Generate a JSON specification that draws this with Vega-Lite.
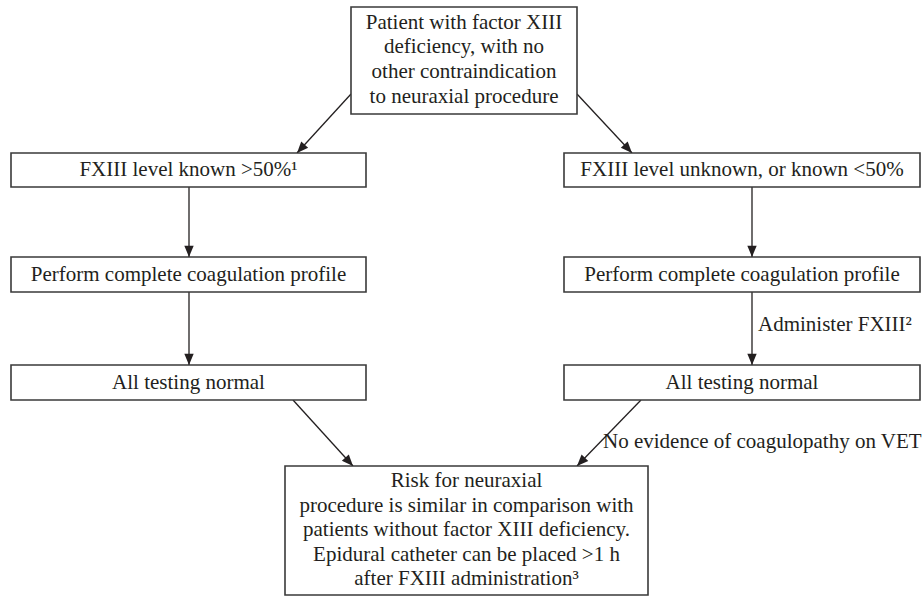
{
  "$schema": "https://vega.github.io/schema/vega-lite/v6.json",
  "width": 924,
  "height": 597,
  "padding": 0,
  "autosize": "none",
  "background": "white",
  "config": {"view": {"stroke": null}},
  "datasets": {
    "boxes": [
      {"box": "start", "x1": 351, "x2": 577, "y1": 7, "y2": 114},
      {"box": "known", "x1": 11, "x2": 366, "y1": 153, "y2": 187},
      {"box": "unknown", "x1": 564, "x2": 920, "y1": 153, "y2": 187},
      {"box": "profileL", "x1": 11, "x2": 366, "y1": 257, "y2": 292},
      {"box": "profileR", "x1": 564, "x2": 920, "y1": 257, "y2": 292},
      {"box": "normalL", "x1": 11, "x2": 366, "y1": 365, "y2": 400},
      {"box": "normalR", "x1": 564, "x2": 920, "y1": 365, "y2": 400},
      {"box": "risk", "x1": 285, "x2": 648, "y1": 466, "y2": 595}
    ],
    "boxText": [
      {"x": 464, "y": 22.5, "text": "Patient with factor XIII"},
      {"x": 464, "y": 47, "text": "deficiency, with no"},
      {"x": 464, "y": 72, "text": "other contraindication"},
      {"x": 464, "y": 96.5, "text": "to neuraxial procedure"},
      {"x": 188.5, "y": 170, "text": "FXIII level known >50%¹"},
      {"x": 742, "y": 170, "text": "FXIII level unknown, or known <50%"},
      {"x": 188.5, "y": 274.5, "text": "Perform complete coagulation profile"},
      {"x": 742, "y": 274.5, "text": "Perform complete coagulation profile"},
      {"x": 188.5, "y": 382.5, "text": "All testing normal"},
      {"x": 742, "y": 382.5, "text": "All testing normal"},
      {"x": 466.5, "y": 481, "text": "Risk for neuraxial"},
      {"x": 466.5, "y": 505.5, "text": "procedure is similar in comparison with"},
      {"x": 466.5, "y": 530, "text": "patients without factor XIII deficiency."},
      {"x": 466.5, "y": 554.5, "text": "Epidural catheter can be placed >1 h"},
      {"x": 466.5, "y": 578.5, "text": "after FXIII administration³"}
    ],
    "edgeText": [
      {"x": 758, "y": 325, "text": "Administer FXIII²"},
      {"x": 603, "y": 442, "text": "No evidence of coagulopathy on VET"}
    ],
    "edges": [
      {"from": "start", "to": "known", "x1": 351, "y1": 94, "x2": 297, "y2": 153, "angle": 42.5},
      {"from": "start", "to": "unknown", "x1": 577, "y1": 94, "x2": 632, "y2": 153, "angle": -43},
      {"from": "known", "to": "profileL", "x1": 189, "y1": 187, "x2": 189, "y2": 257, "angle": 0},
      {"from": "profileL", "to": "normalL", "x1": 189, "y1": 292, "x2": 189, "y2": 365, "angle": 0},
      {"from": "unknown", "to": "profileR", "x1": 752, "y1": 187, "x2": 752, "y2": 257, "angle": 0},
      {"from": "profileR", "to": "normalR", "x1": 752, "y1": 292, "x2": 752, "y2": 365, "angle": 0},
      {"from": "normalL", "to": "risk", "x1": 293, "y1": 400, "x2": 353, "y2": 466, "angle": -42.3},
      {"from": "normalR", "to": "risk", "x1": 641, "y1": 400, "x2": 577, "y2": 466, "angle": 44.1}
    ]
  },
  "layer": [
    {
      "data": {"name": "edges"},
      "mark": {"type": "rule", "color": "#231f20", "strokeWidth": 1.3},
      "encoding": {
        "x": {"field": "x1", "type": "quantitative", "scale": {"domain": [0, 924], "nice": false, "zero": false}, "axis": null},
        "y": {"field": "y1", "type": "quantitative", "scale": {"domain": [0, 597], "nice": false, "zero": false, "reverse": true}, "axis": null},
        "x2": {"field": "x2"},
        "y2": {"field": "y2"}
      }
    },
    {
      "data": {"name": "boxes"},
      "mark": {"type": "rect", "fill": "white", "stroke": "#3a3a3a", "strokeWidth": 1.6},
      "encoding": {
        "x": {"field": "x1", "type": "quantitative"},
        "x2": {"field": "x2"},
        "y": {"field": "y1", "type": "quantitative"},
        "y2": {"field": "y2"}
      }
    },
    {
      "data": {"name": "edges"},
      "mark": {"type": "point", "shape": "M0,0L-0.72,-1.75L0.72,-1.75Z", "filled": true, "size": 169, "color": "#231f20", "opacity": 1, "strokeWidth": 0},
      "encoding": {
        "x": {"field": "x2", "type": "quantitative"},
        "y": {"field": "y2", "type": "quantitative"},
        "angle": {"field": "angle", "type": "quantitative", "scale": null}
      }
    },
    {
      "data": {"name": "boxText"},
      "mark": {"type": "text", "font": "Liberation Serif", "fontSize": 21, "color": "#231f20", "align": "center", "baseline": "middle"},
      "encoding": {
        "x": {"field": "x", "type": "quantitative"},
        "y": {"field": "y", "type": "quantitative"},
        "text": {"field": "text"}
      }
    },
    {
      "data": {"name": "edgeText"},
      "mark": {"type": "text", "font": "Liberation Serif", "fontSize": 21, "color": "#231f20", "align": "left", "baseline": "middle"},
      "encoding": {
        "x": {"field": "x", "type": "quantitative"},
        "y": {"field": "y", "type": "quantitative"},
        "text": {"field": "text"}
      }
    }
  ]
}
